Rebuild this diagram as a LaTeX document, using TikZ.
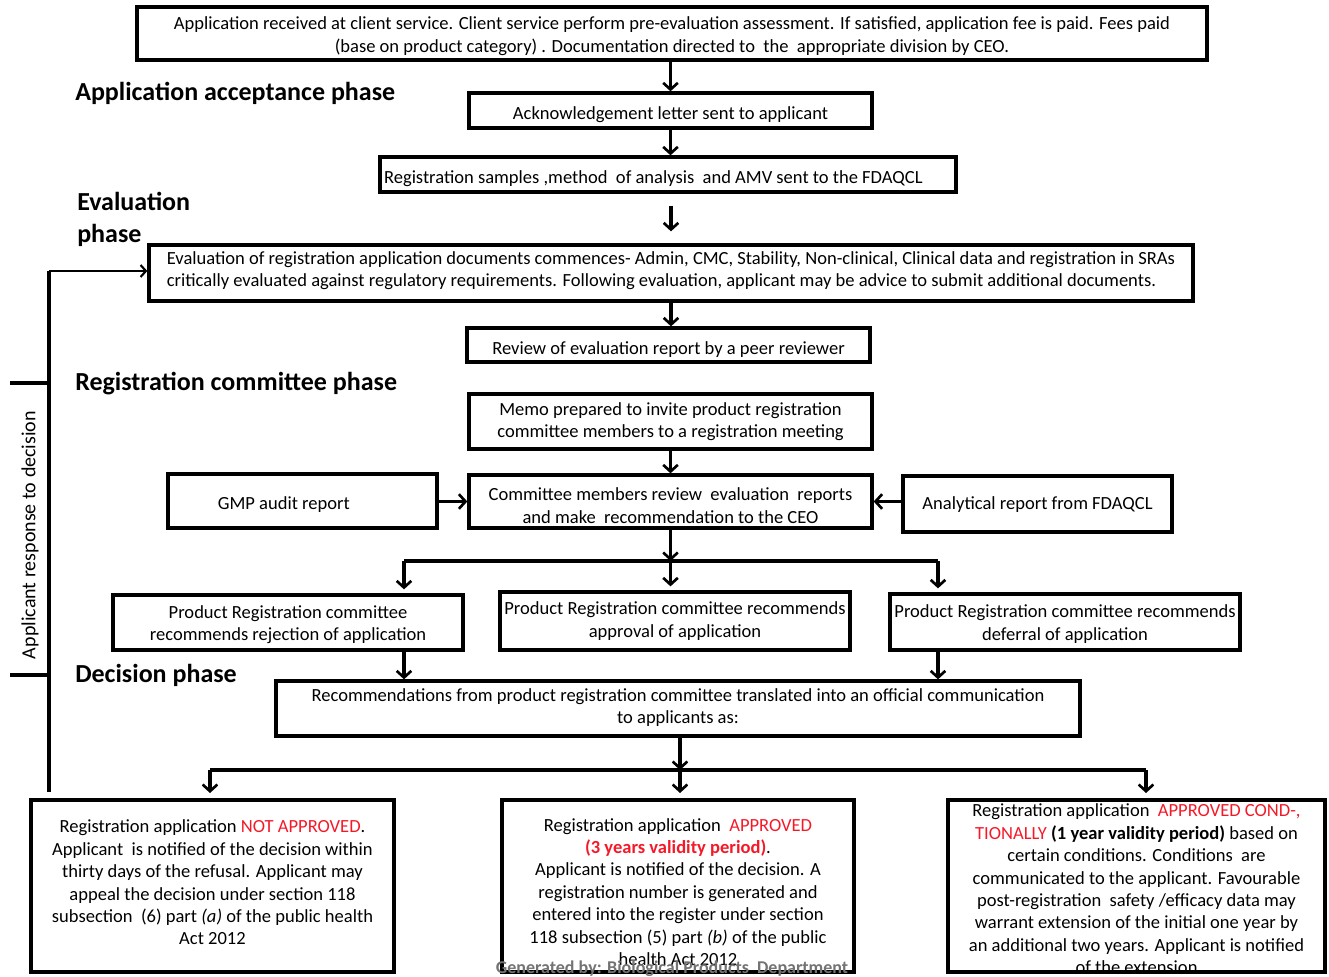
\documentclass[tikz,border=0pt]{standalone}
\usepackage{fontspec}
\setmainfont{Carlito}
\usetikzlibrary{arrows.meta}
\definecolor{redtxt}{RGB}{245,25,40}
\newcommand\bx[7]{%
  \node[box, minimum width={(#3-(#1))*0.75pt}, minimum height={(#4-(#2))*0.75pt}] (#5) at ({(#1+#3)/2},{(#2+#4)/2}) {};
  \node[txt] (#5T) at ({(#1+#3)/2},{(#2+#4)/2+#6}) {#7};}
\begin{document}
\begin{tikzpicture}[x=0.75pt,y=-0.75pt,
 box/.style={draw, line width=2.5pt, inner sep=0pt},
 txt/.style={inner sep=0pt, align=center, font=\fontsize{13.9}{16.8}\selectfont},
 phase/.style={font=\fontsize{19.5}{24}\selectfont\bfseries, anchor=base west, inner sep=0pt},
 arr/.style={line width=2.4pt, -{Straight Barb[length=5pt,width=11pt,line width=2pt]}},
 ln/.style={line width=2.4pt}]
\useasboundingbox (0,0) rectangle (1329,977);

% boxes
\bx{137}{7}{1207}{60}{top}{2.5}{Application received at client service. Client service perform pre-evaluation assessment. If satisfied, application fee is paid. Fees paid\\(base on product category) . Documentation directed to\ \ the\ \ appropriate division by CEO.}
\bx{469}{93}{872}{128}{ack}{4.5}{Acknowledgement letter sent to applicant}
\bx{380}{157}{956}{192}{samp}{4}{Registration samples ,method\ \ of analysis\ \ and AMV sent to the FDAQCL\hspace{22pt}}
\bx{149}{245}{1193}{301}{eval}{-2}{\begin{tabular}{@{}l@{}}Evaluation of registration application documents commences- Admin, CMC, Stability, Non-clinical, Clinical data and registration in SRAs\\critically evaluated against regulatory requirements. Following evaluation, applicant may be advice to submit additional documents.\end{tabular}}
\bx{467}{328}{870}{362}{peer}{4.5}{Review of evaluation report by a peer reviewer}
\bx{469}{394}{872}{449}{memo}{0}{Memo prepared to invite product registration\\committee members to a registration meeting}
\bx{168}{474}{437}{528}{gmp}{4}{GMP audit report\hspace{28pt}}
\bx{469}{475}{872}{528}{comm}{4}{Committee members review\ \ evaluation\ \ reports\\and make\ \ recommendation to the CEO}
\bx{903}{476}{1172}{532}{anal}{1}{Analytical report from FDAQCL}
\bx{113}{595}{463}{650}{rej}{2}{Product Registration committee\\recommends rejection of application}
\bx{500}{592}{850}{650}{appr}{0}{Product Registration committee recommends\\approval of application}
\bx{890}{594}{1240}{650}{def}{2}{Product Registration committee recommends\\deferral of application}
\bx{276}{681}{1080}{736}{rec}{-1}{Recommendations from product registration committee translated into an official communication\\to applicants as:}
\bx{31}{800}{394}{972}{na}{-3.5}{Registration application \textcolor{redtxt}{NOT APPROVED}.\\Applicant\ \ is notified of the decision within\\thirty days of the refusal. Applicant may\\appeal the decision under section 118\\subsection\ \ (6) part \textit{(a)} of the public health\\Act 2012\hspace{4pt}}
\bx{502}{800}{854}{972}{ap}{6}{Registration application\ \ \textcolor{redtxt}{APPROVED}\\\textcolor{redtxt}{\textbf{(3 years validity period)}}.\\Applicant is notified of the decision. A\\registration number is generated and\\entered into the register under section\\118 subsection (5) part \textit{(b)} of the public\\health Act 2012}
\bx{948}{800}{1325}{972}{cond}{3}{Registration application\ \ \textcolor{redtxt}{APPROVED COND-,}\\\textcolor{redtxt}{TIONALLY} \textbf{(1 year validity period)} based on\\certain conditions. Conditions\ \ are\\communicated to the applicant. Favourable\\post-registration\ \ safety /efficacy data may\\warrant extension of the initial one year by\\an additional two years. Applicant is notified\\of the extension}

% phase labels
\node[phase] (p1) at (75,101) {Application acceptance phase};
\node[phase] (p2a) at (77,211) {Evaluation};
\node[phase] (p2b) at (77,243) {phase};
\node[phase] (p3) at (75,390) {Registration committee phase};
\node[phase] (p4) at (75,682) {Decision phase};

% vertical flow
\draw[arr] (ack.north |- top.south) -- (ack.north);
\draw[arr] (ack.south) -- (ack.south |- samp.north);
\draw[arr, shorten <=9pt, shorten >=9pt] (eval.north |- samp.south) -- (eval.north);
\draw[arr] (eval.south) -- (eval.south |- peer.north);
\draw[arr] (memo.south) -- (comm.north);
\draw[arr] (gmp.east |- comm.west) -- (comm.west);
\draw[arr] (anal.west |- comm.east) -- (comm.east);

% branch to three recommendations
\coordinate (b0) at (670.5,561);
\coordinate (bl) at (404,561);
\coordinate (br) at (938,561);
\draw[arr] (comm.south) -- (b0);
\draw[ln] (bl) -- (br);
\draw[arr, shorten >=3pt] (bl) -- (bl |- rej.north);
\draw[arr, shorten >=3pt] (b0) -- (b0 |- appr.north);
\draw[arr, shorten >=3pt] (br) -- (br |- def.north);
\draw[arr] (bl |- rej.south) -- (bl |- rec.north);
\draw[arr] (br |- def.south) -- (br |- rec.north);

% branch to decisions
\coordinate (c0) at (680,770);
\coordinate (cl) at (210,770);
\coordinate (cr) at (1146,770);
\draw[arr] (c0 |- rec.south) -- (c0);
\draw[ln] (cl) -- (cr);
\draw[arr, shorten >=4pt] (cl) -- (cl |- na.north);
\draw[arr, shorten >=4pt] (c0) -- (c0 |- ap.north);
\draw[arr, shorten >=4pt] (cr) -- (cr |- cond.north);

% applicant response loop
\coordinate (lt) at (49,271);
\coordinate (lb) at (49,792);
\coordinate (s1) at (10,383);
\coordinate (s2) at (10,675);
\draw[line width=3.4pt] (lb) -- (lt);
\draw[line width=1.8pt, -{Straight Barb[length=4pt,width=9pt,line width=1.6pt]}] (lt) -- (eval.west |- lt);
\draw[line width=3.4pt] (s1) -- (s1 -| lt);
\draw[line width=3.4pt] (s2) -- (s2 -| lt);
\node[rotate=90, font=\fontsize{15}{18}\selectfont] (resp) at (30,535) {Applicant response to decision};

% watermark
\node[anchor=base, text=black!55, font=\fontsize{13.5}{15}\selectfont\bfseries, inner sep=0pt] (wm) at (672,973) {Generated by: Biological Products\ \ Department};
\end{tikzpicture}
\end{document}
